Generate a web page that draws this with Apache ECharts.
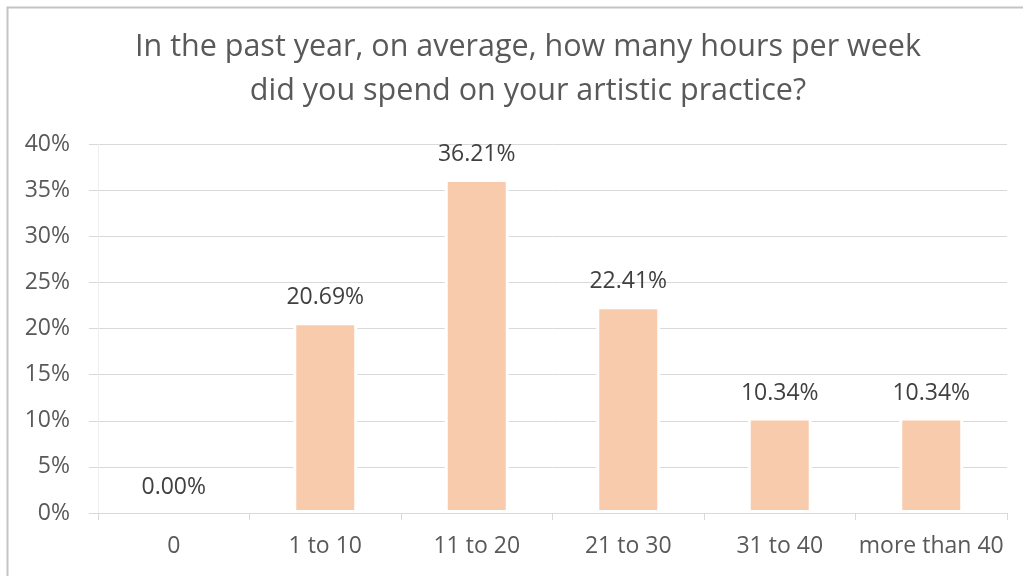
<!DOCTYPE html>
<html>
<head>
<meta charset="utf-8">
<script src="https://cdn.jsdelivr.net/npm/echarts@6/dist/echarts.min.js"></script>
<style>
  html, body { margin: 0; padding: 0; background: #ffffff; }
  #chart { width: 1023px; height: 576px; }
</style>
</head>
<body>
<div id="chart"></div>
<script>
// Weekly hours spent on artistic practice (share of respondents, %)
const categories = ['0', '1 to 10', '11 to 20', '21 to 30', '31 to 40', 'more than 40'];
const shares = [0.00, 20.69, 36.21, 22.41, 10.34, 10.34];
const titleLines = [
  'In the past year, on average, how many hours per week',
  'did you spend on your artistic practice?'
];

const FONT = '"Open Sans", "Noto Sans", sans-serif';
const chart = echarts.init(document.getElementById('chart'));

chart.setOption({
  backgroundColor: '#ffffff',
  animation: false,
  graphic: [
    {
      type: 'rect',
      shape: { x: 7.5, y: 7.5, width: 1100, height: 700 },
      style: { fill: 'none', stroke: '#c4c4c4', lineWidth: 2 },
      silent: true
    },
    {
      type: 'text', x: 528, y: 47,
      style: { text: titleLines[0], fill: '#595959', font: '30.5px ' + FONT, textAlign: 'center', textVerticalAlign: 'middle' }
    },
    {
      type: 'text', x: 528, y: 91,
      style: { text: titleLines[1], fill: '#595959', font: '30.5px ' + FONT, textAlign: 'center', textVerticalAlign: 'middle' }
    }
  ],
  grid: { left: 98, right: 16, top: 144, bottom: 63, containLabel: false },
  xAxis: {
    type: 'category',
    data: categories,
    z: 5,
    axisLine: { lineStyle: { color: '#d9d9d9', width: 1 } },
    axisTick: { show: true, alignWithLabel: false, length: 7, lineStyle: { color: '#d9d9d9' } },
    axisLabel: { color: '#595959', fontFamily: FONT, fontSize: 23, margin: 22, interval: 0 }
  },
  yAxis: {
    type: 'value',
    min: 0,
    max: 40,
    interval: 5,
    axisLine: { show: true, lineStyle: { color: '#eeeeee' } },
    axisTick: { show: true, length: 9, lineStyle: { color: '#d9d9d9' } },
    splitLine: { lineStyle: { color: '#d9d9d9', width: 1 } },
    axisLabel: { color: '#595959', fontFamily: FONT, fontSize: 23, margin: 28, formatter: '{value}%' }
  },
  series: [{
    type: 'bar',
    data: shares,
    barWidth: 64,
    itemStyle: { color: '#F8CBAD', borderColor: '#ffffff', borderWidth: 3 },
    label: {
      show: true,
      position: 'top',
      distance: 13,
      color: '#404040',
      fontFamily: FONT,
      fontSize: 23,
      formatter: p => p.value.toFixed(2) + '%'
    }
  }]
});
</script>
</body>
</html>
